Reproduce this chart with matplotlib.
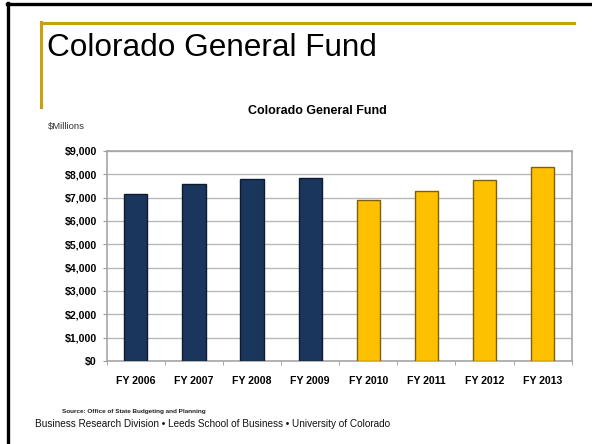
import matplotlib
matplotlib.use("Agg")
import matplotlib.pyplot as plt
import numpy as np
from matplotlib.lines import Line2D
from matplotlib.ticker import FuncFormatter, FixedLocator

years = ["FY 2006", "FY 2007", "FY 2008", "FY 2009",
         "FY 2010", "FY 2011", "FY 2012", "FY 2013"]
fund = [7150, 7590, 7800, 7850, 6910, 7280, 7760, 8310]
kind = ["actual", "actual", "actual", "actual",
        "budget", "budget", "budget", "budget"]

fill = {"actual": "#1B365D", "budget": "#FFC000"}
edge = {"actual": "#0E1C33", "budget": "#7A6010"}
gold = "#C9A20A"
sans = ["Liberation Sans", "DejaVu Sans"]

fig = plt.figure(figsize=(5.92, 4.44), dpi=100)

# slide frame and gold accent
fig.add_artist(Line2D([7 / 592, 1], [1 - 4.5 / 444] * 2, color="black", lw=2.4))
fig.add_artist(Line2D([8 / 592] * 2, [0, 1 - 3.5 / 444], color="black", lw=2.4))
fig.add_artist(Line2D([41 / 592, 574 / 592], [1 - 23 / 444] * 2, color=gold, lw=2.2))
fig.add_artist(Line2D([41 / 592] * 2, [1 - 22 / 444, 1 - 107 / 444], color=gold, lw=2.2))

fig.text(47 / 592, 1 - 56 / 444, "Colorado General Fund", fontsize=22.7,
         family=sans, ha="left", va="baseline")

ax = fig.add_axes([106.7 / 592, 1 - 361 / 444, 465 / 592, 210 / 444])
x = np.arange(len(years))
ax.bar(x, fund, width=0.4,
       color=[fill[k] for k in kind],
       edgecolor=[edge[k] for k in kind], linewidth=1.0, zorder=3)

ax.set_xlim(-0.5, len(years) - 0.5)
ax.set_ylim(0, 9000)
ax.set_yticks(np.arange(0, 9001, 1000))
ax.yaxis.set_major_formatter(FuncFormatter(lambda v, p: f"${int(v):,}"))
ax.set_xticks(x)
ax.set_xticklabels(years)
ax.xaxis.set_minor_locator(FixedLocator(np.arange(-0.5, len(years), 1)))
ax.tick_params(axis="x", which="major", length=0, pad=11)
ax.tick_params(axis="x", which="minor", length=3, color="#999999", direction="out")
ax.tick_params(axis="y", length=3, color="#999999", pad=4)
for lab in ax.get_xticklabels() + ax.get_yticklabels():
    lab.set_family(sans)
    lab.set_fontweight("bold")
    lab.set_fontsize(7.6)

ax.grid(axis="y", color="#B8B8B8", linewidth=1.0, zorder=0)
for s in ax.spines.values():
    s.set_color("#A6A6A6")
    s.set_linewidth(1.2)

fig.text(317 / 592, 1 - 111 / 444, "Colorado General Fund", fontsize=9,
         fontweight="bold", family=sans, ha="center", va="center")
fig.text(48 / 592, 1 - 126 / 444, r"\$Millions", fontsize=6.8, family=sans,
         color="#333333", ha="left", va="center")
fig.text(62 / 592, 1 - 411.5 / 444, "Source: Office of State Budgeting and Planning",
         fontsize=4.6, fontweight="bold", family=sans, color="#222222",
         ha="left", va="center")
fig.text(35 / 592, 1 - 423.5 / 444,
         "Business Research Division \u2022 Leeds School of Business \u2022 University of Colorado",
         fontsize=7.2, family=sans, color="#111111", ha="left", va="center")

fig.savefig("out.png", dpi=100)
